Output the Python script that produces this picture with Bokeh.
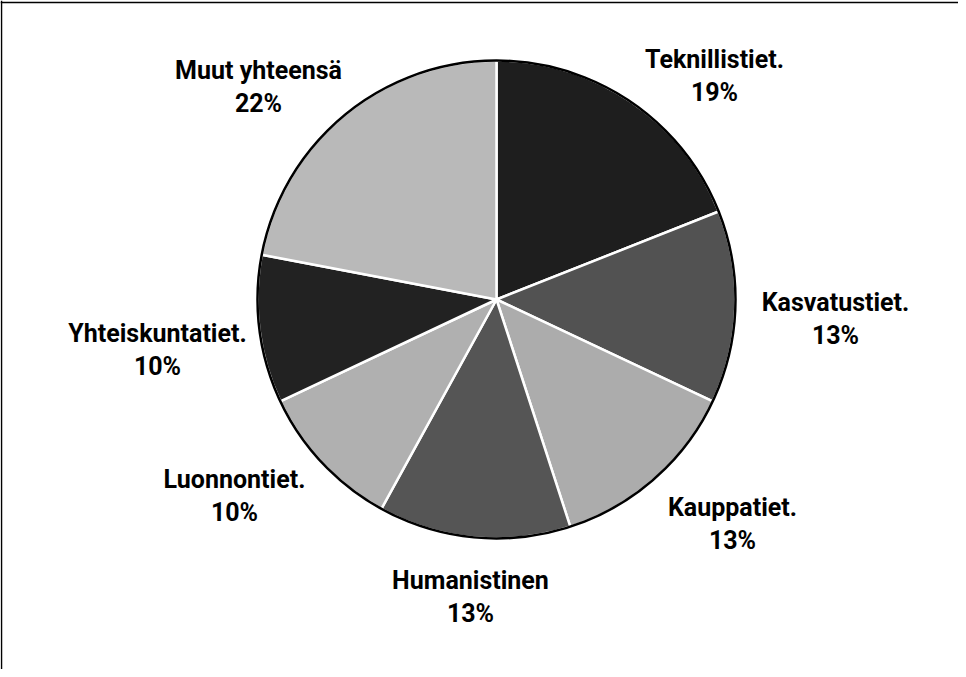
import numpy as np
from bokeh.plotting import figure
from bokeh.models import Range1d, Span, ColumnDataSource
from bokeh.core.properties import value
from bokeh.embed import file_html
from bokeh.resources import INLINE

# --- data (clockwise from 12 o'clock) ---
categories = ["Teknillistiet.", "Kasvatustiet.", "Kauppatiet.", "Humanistinen",
              "Luonnontiet.", "Yhteiskuntatiet.", "Muut yhteensä"]
shares = [19, 13, 13, 13, 10, 10, 22]
pct_labels = ["19%", "13%", "13%", "13%", "10%", "10%", "22%"]

# --- styling / layout (separate from the data) ---
fills = ["#1e1e1e", "#525252", "#acacac", "#555555", "#b0b0b0", "#222222", "#b9b9b9"]
label_x = [714, 835, 732, 470, 234, 157, 258]
label_y = [610, 367, 162, 89, 190, 336, 599]
line_gap = 33
cx, cy, r = 496, 370, 239

W, H = 958, 669
p = figure(width=W, height=H, x_range=Range1d(0, W), y_range=Range1d(0, H),
           output_backend="svg", toolbar_location=None, min_border=0)
p.axis.visible = False
p.grid.visible = False
p.outline_line_color = None
p.background_fill_color = "white"

vals = np.array(shares, dtype=float)
frac = vals / vals.sum()
cum = np.concatenate([[0], np.cumsum(frac)])
start = np.pi / 2 - cum[:-1] * 2 * np.pi
end = np.pi / 2 - cum[1:] * 2 * np.pi

src = ColumnDataSource(dict(start=start, end=end, fill=fills, cat=categories))
p.wedge(x=cx, y=cy, radius=r, start_angle="start", end_angle="end",
        direction="clock", fill_color="fill", line_color="white", line_width=2.5,
        source=src)
p.circle(x=[cx], y=[cy], radius=r, fill_color=None, line_color="black", line_width=2.5)

font = value("Roboto")
lsrc = ColumnDataSource(dict(x=label_x, y=label_y,
                             y2=[y - line_gap for y in label_y],
                             t1=categories, t2=pct_labels))
for col, ycol in (("t1", "y"), ("t2", "y2")):
    p.text(x="x", y=ycol, text=col, source=lsrc, text_font=font,
           text_font_style="bold", text_font_size="25px", text_align="center",
           text_baseline="middle", text_color="black")

# frame lines (top and left; right/bottom are off the page in the reference)
p.add_layout(Span(location=H - 2, dimension="width", line_color="black", line_width=1.5))
p.add_layout(Span(location=1, dimension="height", line_color="black", line_width=1.5))

open("out.html", "w").write(file_html(p, INLINE))
